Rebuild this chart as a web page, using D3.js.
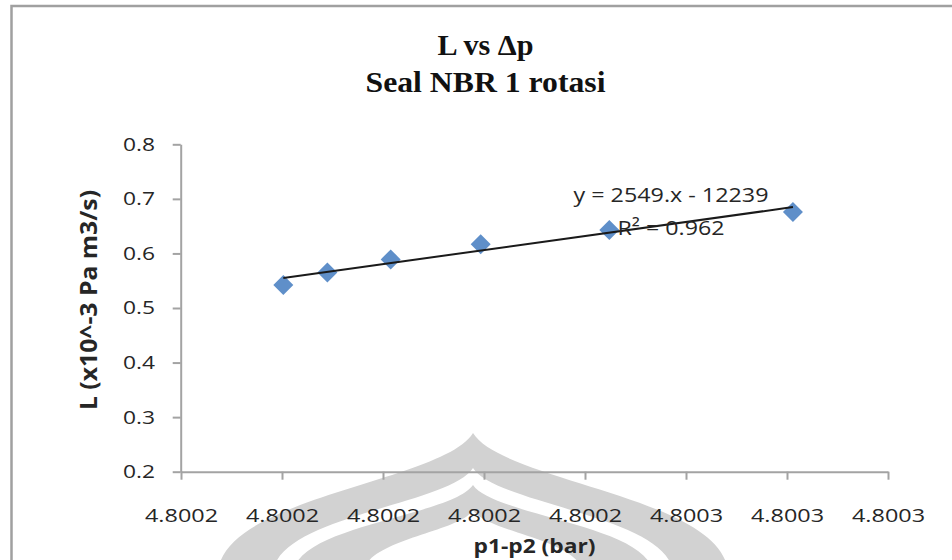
<!DOCTYPE html>
<html>
<head>
<meta charset="utf-8">
<script src="https://cdn.jsdelivr.net/npm/d3@7"></script>
<style>
  body { margin: 0; background: #fff; }
  svg { display: block; }
</style>
</head>
<body>
<svg id="chart" width="952" height="560"></svg>
<script>
// ---------- data ----------
const titleLines = ["L vs \u0394p", "Seal NBR 1 rotasi"];
const xTitle = "p1-p2 (bar)";
const yTitle = "L (x10^-3 Pa m3/s)";
const pressureDiff = [4.80021013, 4.80021449, 4.80022076, 4.80022967, 4.80024241, 4.80026059];
const leakRate     = [0.542, 0.565, 0.589, 0.617, 0.643, 0.676];
const xTickValues  = [4.80020, 4.80021, 4.80022, 4.80023, 4.80024, 4.80025, 4.80026, 4.80027];
const xTickLabels  = ["4.8002", "4.8002", "4.8002", "4.8002", "4.8002", "4.8003", "4.8003", "4.8003"];
const yTickValues  = [0.2, 0.3, 0.4, 0.5, 0.6, 0.7, 0.8];
const yTickLabels  = ["0.2", "0.3", "0.4", "0.5", "0.6", "0.7", "0.8"];
const trendLabels  = ["y = 2549.x - 12239", "R\u00B2 = 0.962"];

// ---------- setup ----------
const svg = d3.select("#chart");
const W = 952, H = 560;
const plot = { left: 181, right: 888, top: 144.3, bottom: 471.7 };

const x = d3.scaleLinear().domain([xTickValues[0], xTickValues[xTickValues.length - 1]]).range([plot.left, plot.right]);
const y = d3.scaleLinear().domain([yTickValues[0], yTickValues[yTickValues.length - 1]]).range([plot.bottom, plot.top]);

const sans = "'Open Sans', 'Noto Sans', 'DejaVu Sans', sans-serif";
const serif = "'Liberation Serif', 'DejaVu Serif', serif";
const axisColor = "#a3a3a3";
const textColor = "#262626";

// ---------- background watermark (scanned page decoration) ----------
function dome(cx, base, halfW, tip) {
  const h = base - tip;
  return `M${cx - halfW},${base} C${cx - halfW},${base - h * 0.55} ${cx - halfW * 0.12},${tip + h * 0.35} ${cx},${tip} ` +
         `C${cx + halfW * 0.12},${tip + h * 0.35} ${cx + halfW},${base - h * 0.55} ${cx + halfW},${base} Z`;
}
const wm = svg.append("g").attr("class", "watermark");
wm.append("path").attr("d", dome(473, 575, 255, 433)).attr("fill", "#d2d2d2");
wm.append("path").attr("d", dome(473, 575, 200, 468)).attr("fill", "#ffffff");
wm.append("path").attr("d", dome(473, 575, 180, 485)).attr("fill", "#d2d2d2");
wm.append("path").attr("d", dome(473, 575, 110, 510)).attr("fill", "#ffffff");

// ---------- frame ----------
svg.append("path")
  .attr("d", `M11.5,${H + 5} L11.5,6 L${W + 5},6`)
  .attr("fill", "none").attr("stroke", "#a0a0a0").attr("stroke-width", 2.5);

// ---------- title ----------
const titleLens = [96, 240];
const titleBase = [55, 91.7];
svg.append("g").selectAll("text").data(titleLines).join("text")
  .attr("x", 485.5).attr("y", (d, i) => titleBase[i])
  .attr("text-anchor", "middle")
  .attr("font-family", serif).attr("font-weight", "bold").attr("font-size", 29)
  .attr("fill", "#111")
  .attr("textLength", (d, i) => titleLens[i]).attr("lengthAdjust", "spacingAndGlyphs")
  .text(d => d);

// ---------- axes ----------
const xAxis = d3.axisBottom(x)
  .tickValues(xTickValues)
  .tickFormat((d, i) => xTickLabels[i])
  .tickSize(8).tickSizeOuter(0).tickPadding(29);
const gx = svg.append("g").attr("transform", `translate(0,${plot.bottom})`).call(xAxis);

const yAxis = d3.axisLeft(y)
  .tickValues(yTickValues)
  .tickFormat((d, i) => yTickLabels[i])
  .tickSize(8).tickSizeOuter(0).tickPadding(17.7);
const gy = svg.append("g").attr("transform", `translate(${plot.left - 0.3},0)`).call(yAxis);

[gx, gy].forEach(g => {
  g.select(".domain").attr("stroke", axisColor).attr("stroke-width", 2);
  g.selectAll(".tick line").attr("stroke", axisColor).attr("stroke-width", 2);
  g.selectAll(".tick text")
    .attr("font-family", sans).attr("font-size", 18.5).attr("fill", textColor)
    .attr("lengthAdjust", "spacingAndGlyphs");
});
gx.selectAll(".tick text").attr("textLength", 73);
gy.selectAll(".tick text").attr("textLength", 32);

// axis titles
svg.append("text")
  .attr("x", (plot.left + plot.right) / 2).attr("y", 553)
  .attr("text-anchor", "middle")
  .attr("font-family", sans).attr("font-weight", "bold").attr("font-size", 19)
  .attr("fill", textColor)
  .attr("textLength", 122).attr("lengthAdjust", "spacingAndGlyphs")
  .text(xTitle);

svg.append("text")
  .attr("transform", `translate(97,300) rotate(-90)`)
  .attr("text-anchor", "middle")
  .attr("font-family", sans).attr("font-weight", "bold").attr("font-size", 23)
  .attr("fill", textColor)
  .attr("textLength", 220).attr("lengthAdjust", "spacingAndGlyphs")
  .text(yTitle);

// ---------- data points ----------
const points = pressureDiff.map((p, i) => ({ p, L: leakRate[i] }));
svg.append("g").selectAll("path").data(points).join("path")
  .attr("d", d3.symbol(d3.symbolSquare, 200))
  .attr("transform", d => `translate(${x(d.p)},${y(d.L)}) rotate(45)`)
  .attr("fill", "#5f8fc9");

// ---------- linear trendline (least squares) ----------
const mx = d3.mean(pressureDiff), my = d3.mean(leakRate);
let sxy = 0, sxx = 0;
points.forEach(d => { sxy += (d.p - mx) * (d.L - my); sxx += (d.p - mx) * (d.p - mx); });
const slope = sxy / sxx, intercept = my - slope * mx;
const xr = d3.extent(pressureDiff);
svg.append("line")
  .attr("x1", x(xr[0])).attr("y1", y(slope * xr[0] + intercept))
  .attr("x2", x(xr[1])).attr("y2", y(slope * xr[1] + intercept))
  .attr("stroke", "#1a1a1a").attr("stroke-width", 2);

// ---------- trendline label ----------
const trendLens = [195, 107];
const trendBase = [201.7, 235];
svg.append("g").selectAll("text").data(trendLabels).join("text")
  .attr("x", 671).attr("y", (d, i) => trendBase[i])
  .attr("text-anchor", "middle")
  .attr("font-family", sans).attr("font-size", 20).attr("fill", textColor)
  .attr("textLength", (d, i) => trendLens[i]).attr("lengthAdjust", "spacingAndGlyphs")
  .text(d => d);
</script>
</body>
</html>
